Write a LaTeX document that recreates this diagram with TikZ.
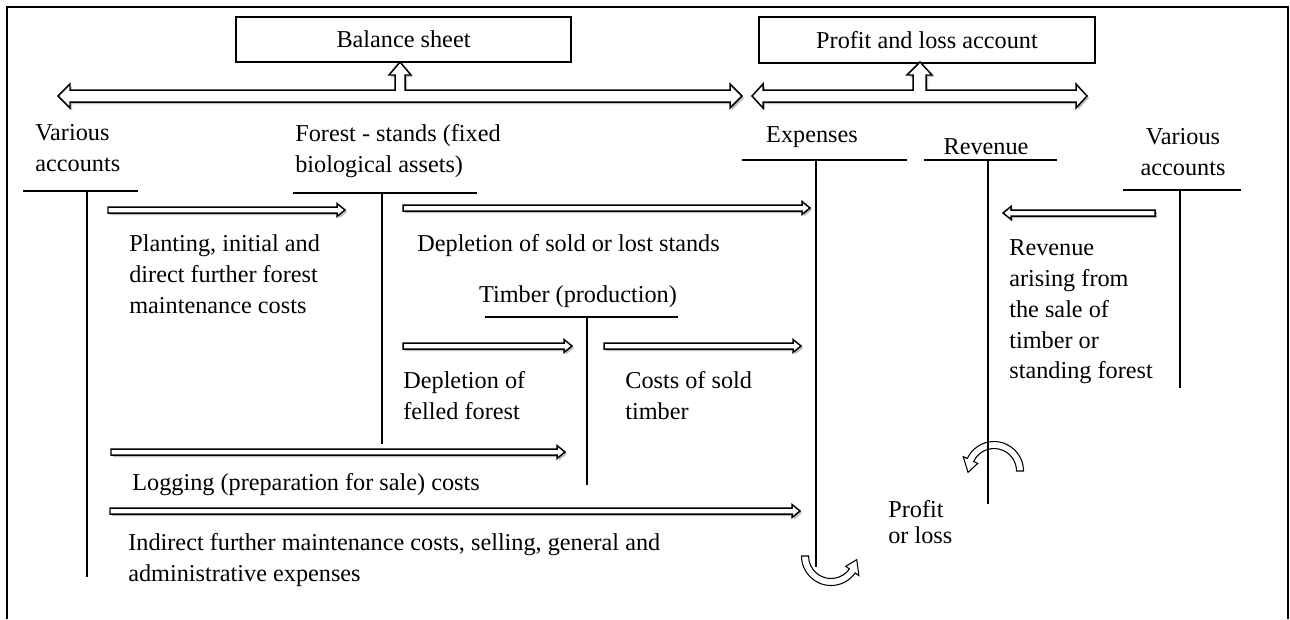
\documentclass[tikz,border=0pt]{standalone}
\usepackage{fontspec}
\setmainfont{Liberation Serif}
\usetikzlibrary{calc}

\tikzset{
  lbl/.style={inner sep=0pt, align=left, anchor=north west},
  acc/.style={draw, line width=0.8pt, inner sep=0pt},
  tline/.style={line width=1.1pt},
  shade/.style={fill=gray!50, draw=none},
  hollow/.style={draw, fill=white, line width=0.85pt}
}

% flow arrow from x=#1 to x=#2 at height #3
\newcommand{\flow}[3]{%
  \pgfmathsetmacro\hb{#2-8*sign(#2-#1)}
  \fill[shade, shift={(2,2)}] (#1,#3-3) -- (\hb,#3-3) -- (\hb,#3-6.5) -- (#2,#3)
    -- (\hb,#3+6.5) -- (\hb,#3+3) -- (#1,#3+3) -- cycle;
  \draw[hollow] (#1,#3-3) -- (\hb,#3-3) -- (\hb,#3-6.5) -- (#2,#3)
    -- (\hb,#3+6.5) -- (\hb,#3+3) -- (#1,#3+3) -- cycle;
}

\begin{document}
\begin{tikzpicture}[x=0.02cm, y=-0.02cm, font=\fontsize{13.8}{17.6}\selectfont]
  \useasboundingbox (0,0) rectangle (1290,619);
  \draw[line width=1.1pt] (7,619) -- (7,7) -- (1288,7) -- (1288,619);

  % statements
  \node[acc, minimum width=6.7cm, minimum height=0.9cm] (bs) at (403.5,39.5) {Balance sheet};
  \node[acc, minimum width=6.72cm, minimum height=0.92cm] (pl) at (927,40) {Profit and loss account};

  % big arrows
  \foreach \dx/\st in {2/shade, 0/hollow} {
    \path[\st, shift={(\dx,\dx)}] (58,96) -- (70,84) -- (70,90) -- (395,90) -- (395,75) -- (389,75)
      -- (400,62) -- (411,75) -- (405,75) -- (405,90) -- (730,90) -- (730,84) -- (742,96)
      -- (730,108) -- (730,102) -- (70,102) -- (70,108) -- cycle;
    \path[\st, shift={(\dx,\dx)}] (752,96) -- (763,84) -- (763,90) -- (913,90) -- (913,75) -- (907,75)
      -- (920,62) -- (932,75) -- (926,75) -- (926,90) -- (1076,90) -- (1076,84) -- (1087,96)
      -- (1076,108) -- (1076,102) -- (763,102) -- (763,108) -- cycle;
  }

  % accounts
  \node[lbl] (va) at (35,124) {Various\\accounts};
  \node[lbl] (fs) at (295,124) {Forest - stands (fixed\\biological assets)};
  \node[inner sep=0pt] (ex) at (812,137) {Expenses};
  \node[inner sep=0pt] (rv) at (986,147) {Revenue};
  \node[inner sep=0pt, align=center, anchor=north] (vb) at (1183,128) {Various\\accounts};
  \node[inner sep=0pt] (tp) at (578,297) {Timber (production)};

  % curved arrows
  \coordinate (cr) at (994,471);
  \coordinate (ce) at (831,556);
  \draw[hollow, line width=0.6pt] ($(cr)+(0:29.5)$) arc[start angle=0, end angle=-155, radius=29.5]
    -- ($(cr)+(-155:34)$) -- ($(cr)+(-183:26)$) -- ($(cr)+(-155:18)$) -- ($(cr)+(-155:22.5)$)
    arc[start angle=-155, end angle=0, radius=22.5] -- cycle;
  \draw[hollow, line width=0.6pt] ($(ce)+(180:29.5)$) arc[start angle=180, end angle=35, radius=29.5]
    -- ($(ce)+(35:34)$) -- ($(ce)+(8:26)$) -- ($(ce)+(35:18)$) -- ($(ce)+(35:22.5)$)
    arc[start angle=35, end angle=180, radius=22.5] -- cycle;

  % T-accounts
  \foreach \xa/\xb/\yh/\xv/\yv in {23/138/191/87/577, 293/477/193/382/444, 742/907/160/816/567,
      924/1057/160/988/504, 1123/1241/190/1180/388, 485/678/317/587/485} {
    \draw[tline] (\xa,\yh) -- (\xb,\yh);
    \draw[tline] (\xv,\yh) -- (\xv,\yv);
  }

  % flows
  \foreach \a/\b/\c in {108/345/210, 403/810/208, 1155/1003/213, 403/572/346,
      604/801/346, 111/565/452, 110/800/511} {
    \flow{\a}{\b}{\c}
  }

  \node[lbl] (pc) at (129,234) {Planting, initial and\\direct further forest\\maintenance costs};
  \node[lbl] (ds) at (417,234) {Depletion of sold or lost stands};
  \node[lbl] (df) at (403,371) {Depletion of\\felled forest};
  \node[lbl] (cs) at (625,371) {Costs of sold\\timber};
  \node[lbl] (lc) at (132,473) {Logging (preparation for sale) costs};
  \node[lbl] (ic) at (128,533) {Indirect further maintenance costs, selling, general and\\administrative expenses};
  \node[lbl] (pf) at (888,500) {Profit\\[-3pt]or loss};
  \node[lbl] (ra) at (1009,239) {Revenue\\arising from\\the sale of\\timber or\\standing forest};
\end{tikzpicture}
\end{document}
